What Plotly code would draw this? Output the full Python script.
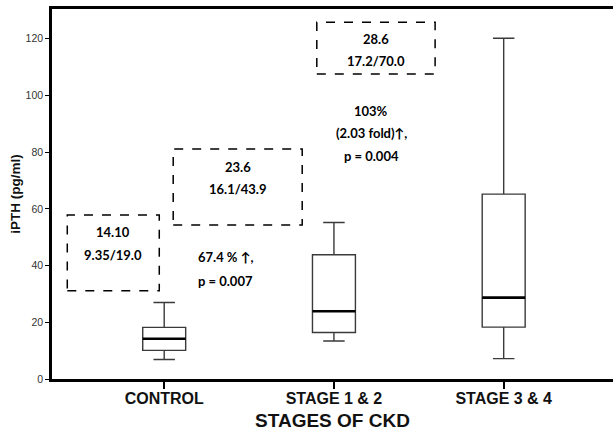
import plotly.graph_objects as go

categories = ["CONTROL", "STAGE 1 & 2", "STAGE 3 & 4"]
positions = [0, 1, 2]
lower_whisker = [6.9, 13.4, 7.2]
q1_vals = [10.1, 16.4, 18.3]
median_vals = [14.2, 23.9, 28.7]
q3_vals = [18.2, 43.8, 65.2]
upper_whisker = [27.0, 55.2, 120.2]
y_ticks = [0, 20, 40, 60, 80, 100, 120]

box_width = 0.253

fig = go.Figure()
fig.add_trace(go.Box(
    x=positions, q1=q1_vals, median=median_vals, q3=q3_vals,
    lowerfence=lower_whisker, upperfence=upper_whisker,
    width=box_width, whiskerwidth=0.5,
    fillcolor="white", line=dict(color="#3a3a3a", width=1.4),
    showlegend=False, hoverinfo="skip",
))
for p, m in zip(positions, median_vals):
    fig.add_trace(go.Scatter(
        x=[p - box_width / 2, p + box_width / 2], y=[m, m], mode="lines",
        line=dict(color="black", width=2.6), showlegend=False, hoverinfo="skip"))

bold = dict(family="Lato, 'Open Sans', sans-serif", size=13, color="black")

# dashed annotation boxes (data coordinates)
rects = [(-0.571, -0.029, 31.1, 57.8), (0.053, 0.813, 54.3, 81.1), (0.899, 1.596, 107.6, 125.8)]
for x0, x1, y0, y1 in rects:
    fig.add_shape(type="rect", x0=x0, x1=x1, y0=y0, y1=y1,
                  line=dict(color="black", width=1.5, dash="dash"))

notes = [
    (-0.303, 51.7, "<b>14.10</b>"), (-0.303, 43.7, "<b>9.35/19.0</b>"),
    (0.433, 74.9, "<b>23.6</b>"), (0.433, 66.9, "<b>16.1/43.9</b>"),
    (1.247, 119.9, "<b>28.6</b>"), (1.247, 112.3, "<b>17.2/70.0</b>"),
    (0.364, 42.9, "<b>67.4 % ↑,</b>"), (0.364, 34.5, "<b>p = 0.007</b>"),
    (1.22, 94.7, "<b>103%</b>"), (1.22, 86.7, "<b>(2.03 fold)↑,</b>"),
    (1.22, 78.7, "<b>p = 0.004</b>"),
]
for x, y, t in notes:
    fig.add_annotation(x=x, y=y, text=t, showarrow=False, font=bold,
                       xanchor="center", yanchor="middle")

fig.update_layout(
    width=613, height=432,
    margin=dict(l=52, r=0, t=9, b=53, autoexpand=False),
    plot_bgcolor="white", paper_bgcolor="white",
    xaxis=dict(range=[-0.661, 2.644], tickvals=positions,
               ticktext=["<b>%s</b>" % c for c in categories],
               showgrid=False, zeroline=False, showline=True, linecolor="black",
               linewidth=2.5, mirror=True, ticks="outside", ticklen=7,
               tickcolor="black", tickwidth=1.5, ticklabelstandoff=-4,
               tickfont=dict(family="Arial, Liberation Sans, sans-serif", size=16, color="#111"),
               title=dict(text="<b>STAGES OF CKD</b>", standoff=8,
                          font=dict(family="Arial, Liberation Sans, sans-serif", size=19, color="#111"))),
    yaxis=dict(range=[0, 130.5], tickvals=y_ticks, showgrid=False, zeroline=False,
               showline=True, linecolor="black", linewidth=2.5,
               ticks="outside", ticklen=4, tickcolor="black", tickwidth=1,
               tickfont=dict(family="Arial, Liberation Sans, sans-serif", size=10.5, color="#333"),
               title=dict(text="<b>iPTH (pg/ml)</b>", standoff=2,
                          font=dict(family="Arial, Liberation Sans, sans-serif", size=13.5, color="#111"))),
)

fig.write_html(
    "out.html",
    config={"displayModeBar": False},
    post_script=("document.documentElement.style.overflow='hidden';"
                 "document.body.style.margin='0';document.body.style.overflow='hidden';"),
)
